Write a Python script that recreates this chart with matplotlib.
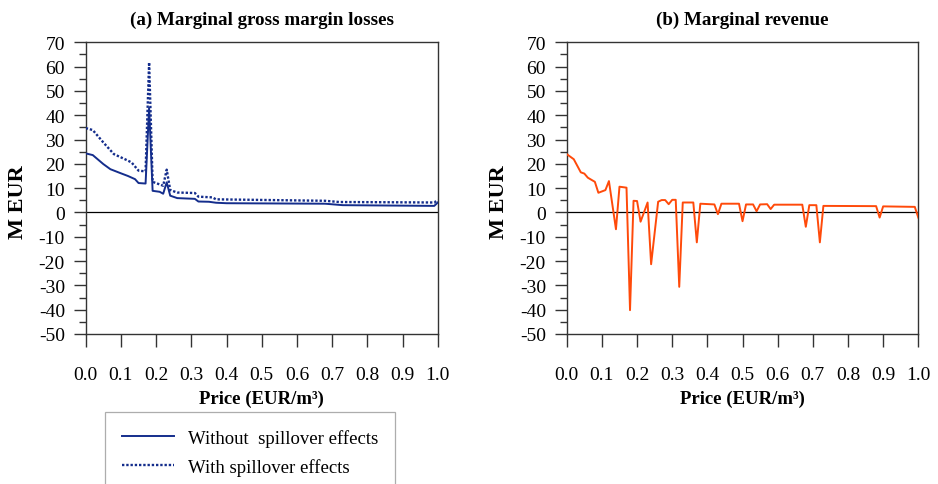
import matplotlib
matplotlib.use('Agg')
import matplotlib.pyplot as plt
from matplotlib.lines import Line2D

# ------------------------------------------------------------
# Data (price in EUR/m3, values in M EUR)
# ------------------------------------------------------------
price_without = [0.00, 0.02, 0.05, 0.07, 0.10, 0.12, 0.14, 0.15, 0.17, 0.18,
                 0.19, 0.21, 0.22, 0.23, 0.24, 0.26, 0.31, 0.32, 0.35, 0.37,
                 0.40, 0.68, 0.73, 0.99, 1.00]
loss_without = [24.3, 23.6, 19.9, 17.8, 16.1, 15.0, 13.7, 12.1, 11.9, 43.0,
                8.9, 8.5, 7.7, 12.4, 6.9, 5.9, 5.6, 4.5, 4.4, 4.0,
                3.8, 3.6, 3.0, 2.7, 4.1]

price_with = [0.00, 0.02, 0.05, 0.08, 0.11, 0.13, 0.15, 0.17, 0.18, 0.19,
              0.22, 0.23, 0.24, 0.26, 0.31, 0.32, 0.36, 0.37, 0.68, 0.72,
              0.99, 1.00]
loss_with = [34.7, 33.9, 28.8, 24.0, 22.0, 20.6, 17.2, 16.9, 61.8, 12.6,
             11.0, 17.6, 9.2, 8.2, 8.0, 6.5, 6.2, 5.4, 4.8, 4.3,
             4.1, 5.1]

price_rev = [0.00, 0.02, 0.04, 0.05, 0.06, 0.08, 0.09, 0.11, 0.12, 0.14,
             0.15, 0.17, 0.18, 0.19, 0.20, 0.21, 0.23, 0.24, 0.26, 0.27,
             0.28, 0.29, 0.30, 0.31, 0.32, 0.33, 0.36, 0.37, 0.38, 0.42,
             0.43, 0.44, 0.49, 0.50, 0.51, 0.53, 0.54, 0.55, 0.57, 0.58,
             0.59, 0.67, 0.68, 0.69, 0.71, 0.72, 0.73, 0.88, 0.89, 0.90,
             0.99, 1.00]
revenue = [24.0, 21.9, 16.5, 16.0, 14.3, 12.6, 8.1, 9.2, 12.9, -6.9,
           10.6, 10.2, -40.2, 4.8, 4.7, -3.8, 4.1, -21.3, 4.4, 5.1,
           5.1, 3.4, 5.2, 5.2, -30.6, 4.1, 4.1, -12.3, 3.6, 3.3,
           -0.7, 3.6, 3.6, -3.6, 3.3, 3.3, 0.5, 3.3, 3.4, 1.4,
           3.2, 3.2, -5.9, 3.0, 3.0, -12.3, 2.7, 2.6, -2.1, 2.5,
           2.3, -2.1]

titles = ['(a) Marginal gross margin losses', '(b) Marginal revenue']
legend_labels = ['Without  spillover effects', 'With spillover effects']

NAVY = '#142d8c'
ORANGE = '#ff4a0a'
DOTS = (0, (1, 0.8))

plt.rcParams['font.family'] = ['Liberation Serif', 'DejaVu Serif']
plt.rcParams['axes.unicode_minus'] = False

fig = plt.figure(figsize=(9.38, 4.85), dpi=100)
ax_a = fig.add_axes([0.0914, 0.3093, 0.3753, 0.6014])
ax_b = fig.add_axes([0.6042, 0.3093, 0.3748, 0.6014])


def style_axis(ax, title):
    ax.set_xlim(0, 1.0)
    ax.set_ylim(-50, 70)
    ax.set_xticks([i / 10 for i in range(11)])
    ax.set_xticklabels([f'{i / 10:.1f}' for i in range(11)])
    ax.set_yticks(range(-50, 71, 10))
    ax.set_yticks(range(-45, 70, 10), minor=True)
    ax.tick_params(axis='both', which='major', direction='out', length=9,
                   width=1.0, labelsize=14, color='#333333')
    ax.tick_params(axis='x', which='major', pad=14)
    ax.tick_params(axis='y', which='major', pad=6)
    ax.tick_params(axis='y', which='minor', direction='out', length=4.8,
                   width=1.0, color='#333333')
    for sp in ax.spines.values():
        sp.set_color('#333333')
        sp.set_linewidth(1.0)
    ax.axhline(0, color='black', linewidth=0.9, zorder=1)
    ax.set_title(title, fontsize=13.7, fontweight='bold', pad=13)
    ax.set_xlabel('Price (EUR/m³)', fontsize=13.5, fontweight='bold', labelpad=5)
    ax.set_ylabel('M EUR', fontsize=16, fontweight='bold')
    ax.yaxis.set_label_coords(-0.165, 0.457)


style_axis(ax_a, titles[0])
style_axis(ax_b, titles[1])

ax_a.plot(price_without, loss_without, color=NAVY, linewidth=1.4, zorder=3)
ax_a.plot(price_with, loss_with, color=NAVY, linewidth=1.7, linestyle=DOTS, zorder=3)
ax_b.plot(price_rev, revenue, color=ORANGE, linewidth=1.4, zorder=3)

handles = [Line2D([], [], color=NAVY, linewidth=1.4),
           Line2D([], [], color=NAVY, linewidth=1.7, linestyle=DOTS)]
leg = fig.legend(handles, legend_labels, loc='upper left',
                 bbox_to_anchor=(105 / 938, 1 - 413 / 485),
                 fontsize=13.5, frameon=True, fancybox=False,
                 handlelength=2.8, handletextpad=0.7, labelspacing=0.6,
                 borderpad=0.9, borderaxespad=0)
leg.get_frame().set_edgecolor('#999999')
leg.get_frame().set_linewidth(0.9)

fig.savefig('out.png', dpi=100)
